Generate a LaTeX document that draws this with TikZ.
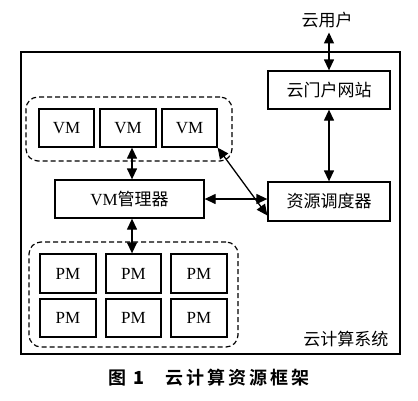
\documentclass[tikz,border=0pt]{standalone}
\usepackage{fontspec}
\setmainfont{Liberation Serif}
\newfontfamily\cjk{Noto Sans CJK SC}
\newfontfamily\cjkb{Noto Sans CJK SC Bold}
\usetikzlibrary{arrows.meta}
\begin{document}
\begin{tikzpicture}[x=1pt,y=-1pt,
  box/.style={draw,line width=1.3pt,inner sep=0pt},
  grp/.style={draw,line width=1.2pt,dashed,dash pattern=on 5pt off 3pt,rounded corners=12pt,inner sep=0pt},
  biarrow/.style={line width=1.3pt,{Triangle[width=10pt,length=11pt]}-{Triangle[width=10pt,length=11pt]}},
  lbl/.style={font=\fontsize{17}{17}\selectfont},
  zh/.style={font=\cjk\fontsize{17}{17}\selectfont}]
\useasboundingbox (0,0) rectangle (418,400);
\fill[white] (0,0) rectangle (418,400);
% outer system box
\node[box,line width=1.1pt,minimum width=379pt,minimum height=302pt] (sys) at (210.5,203) {};
\node[zh,anchor=south east] (syslbl) at (392,350) {云计算系统};
% user
\node[zh] (user) at (327,20) {云用户};
\node[box,zh,minimum width=122pt,minimum height=38pt] (portal) at (329,90) {云门户网站};
\node[box,zh,minimum width=122pt,minimum height=39pt] (sched) at (329,201.5) {资源调度器};
\node[box,minimum width=149pt,minimum height=38pt] (vmm) at (129.5,199) {\fontsize{17}{17}\selectfont VM\cjk\fontsize{17}{17}\selectfont 管理器};
% VM group
\node[grp,minimum width=206pt,minimum height=64pt] (vmg) at (129,129) {};
\node[box,lbl,minimum width=55pt,minimum height=38pt] (vm1) at (66.5,128) {VM};
\node[box,lbl,minimum width=56pt,minimum height=38pt] (vm2) at (128,128) {VM};
\node[box,lbl,minimum width=55pt,minimum height=38pt] (vm3) at (189.5,128) {VM};
% PM group
\node[grp,minimum width=209pt,minimum height=105pt] (pmg) at (133.5,294.5) {};
\node[box,lbl,minimum width=56pt,minimum height=39pt] (pm1) at (68,273.5) {PM};
\node[box,lbl,minimum width=55pt,minimum height=39pt] (pm2) at (133.5,273.5) {PM};
\node[box,lbl,minimum width=56pt,minimum height=39pt] (pm3) at (199,273.5) {PM};
\node[box,lbl,minimum width=56pt,minimum height=38pt] (pm4) at (68,318) {PM};
\node[box,lbl,minimum width=55pt,minimum height=38pt] (pm5) at (133.5,318) {PM};
\node[box,lbl,minimum width=56pt,minimum height=38pt] (pm6) at (199,318) {PM};
% connectors
\draw[biarrow] (user.south -| portal.north) ++(0,1) -- (portal.north);
\draw[biarrow] (portal.south) -- (sched.north);
\draw[biarrow] (vm3.south east) -- ([yshift=-14pt]sched.west);
\draw[biarrow] (vmm.east) -- (vmm.east -| sched.west);
\draw[biarrow] (vm2.south -| 132,0) -- (132,0 |- vmm.north);
\draw[biarrow] (132,0 |- vmm.south) -- (132,0 |- pm2.north);
% caption
\node[font=\cjkb\fontsize{18}{18}\selectfont] (cap) at (209,378) {图\hspace{0.4em}\textbf{1}\hspace{1.2em}云\,计\,算\,资\,源\,框\,架};
\end{tikzpicture}
\end{document}
